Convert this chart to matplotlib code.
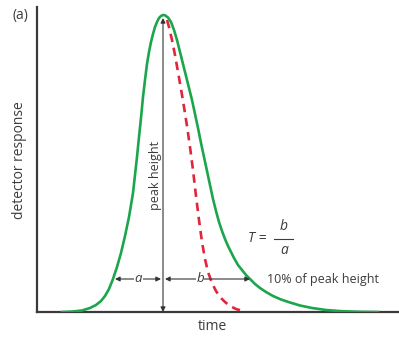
import matplotlib.pyplot as plt

# green tailing peak; x = time, y = detector response
rise_t = [62, 72, 82, 90, 96, 101, 105, 109, 113, 117, 121, 125, 129, 133, 137, 139, 141, 143,
          145, 147, 149, 151, 153, 155, 157, 159, 161, 163]
rise_y = [0, 0.4, 1.5, 4, 7, 11, 16, 23, 33, 45, 59, 76, 95, 119, 155, 175, 194, 215,
          232, 248, 260, 270, 278, 285, 290, 294, 296, 297]
fall_t = [165, 168, 171, 174, 177, 180, 183, 186, 189, 192, 195, 198, 201, 204, 207, 210, 213,
          216, 219, 222, 225, 228, 231, 234, 238, 242, 246, 250, 255, 260, 266, 273, 281, 290,
          300, 312, 326, 342, 360, 378]
fall_y = [296.7, 294.5, 290, 282, 272, 260, 248, 236, 224, 212, 198, 184, 169, 155, 141, 127, 113,
          101, 90, 81, 73, 66, 60, 54, 47, 42, 37, 33, 28, 24, 20, 16, 12.5, 9.5,
          6.5, 4, 2, 0.8, 0.2, 0]

# red dashed: symmetric (non-tailing) back half
sym_t = [167, 169, 172, 175, 178, 181, 184, 187, 190, 193, 196, 199, 202, 205, 208, 212, 216,
         220, 225, 230, 236, 243]
sym_y = [292, 285, 272, 257, 240, 223, 205, 186, 165, 142, 116, 92, 70, 53, 40, 29, 21,
         15, 10, 6, 3, 1]

t_max = 163
y_max = 297
level_10 = 33
t_left = 114
t_right = 251

W, H = 399, 338
fig = plt.figure(figsize=(W / 100, H / 100), dpi=100)
ax = fig.add_axes([37 / W, 26 / H, 362 / W, 305 / H])
ax.set_xlim(37, 399)
ax.set_ylim(0, 305)

txt = '#3c3c3c'
font = 'Open Sans'

ax.plot(rise_t + fall_t, rise_y + fall_y, color='#1ca64c', lw=1.9,
        solid_joinstyle='round', zorder=3)
ax.plot(sym_t, sym_y, color='#e0263c', lw=1.9, ls=(0, (3.2, 2.2)), zorder=2)

arrow = dict(arrowstyle='<|-|>', color='#333333', lw=0.8, mutation_scale=7, shrinkA=0, shrinkB=0)
ax.annotate('', xy=(t_max, y_max - 3), xytext=(t_max, 0), arrowprops=arrow)
ax.annotate('', xy=(t_left + 1, level_10), xytext=(t_max - 2, level_10), arrowprops=arrow)
ax.annotate('', xy=(t_max + 2, level_10), xytext=(t_right - 1, level_10), arrowprops=arrow)

box = dict(facecolor='white', edgecolor='none', pad=0.5)
ax.text((t_left + t_max) / 2, level_10, 'a', style='italic', ha='center', va='center',
        fontsize=9.5, color=txt, family=font, bbox=box)
ax.text(200, level_10, 'b', style='italic', ha='center', va='center',
        fontsize=9.5, color=txt, family=font, bbox=box)
ax.text(267, level_10, '10% of peak height', ha='left', va='center',
        fontsize=9, color=txt, family=font)
ax.text(t_max - 7, 137, 'peak height', rotation=90, ha='center', va='center',
        fontsize=9, color=txt, family=font)

# T = b / a
ax.text(266, 74, 'T =', style='italic', ha='right', va='center', fontsize=10, color=txt, family=font)
ax.text(284, 85, 'b', style='italic', ha='center', va='center', fontsize=10, color=txt, family=font)
ax.text(284, 62, 'a', style='italic', ha='center', va='center', fontsize=10, color=txt, family=font)
ax.plot([274, 293], [73, 73], color=txt, lw=0.8)

for side in ['top', 'right']:
    ax.spines[side].set_visible(False)
for side in ['left', 'bottom']:
    ax.spines[side].set_color('#3a3a3a')
    ax.spines[side].set_linewidth(1.6)
ax.set_xticks([])
ax.set_yticks([])

fig.text(20 / W, 1 - 160 / H, 'detector response', rotation=90, ha='center', va='center',
         fontsize=10, color=txt, family=font)
fig.text(212 / W, 1 - 327 / H, 'time', ha='center', va='center', fontsize=10, color=txt, family=font)
fig.text(20 / W, 1 - 16 / H, '(a)', ha='center', va='center', fontsize=10, color=txt, family=font)

fig.savefig('out.png', dpi=100)
